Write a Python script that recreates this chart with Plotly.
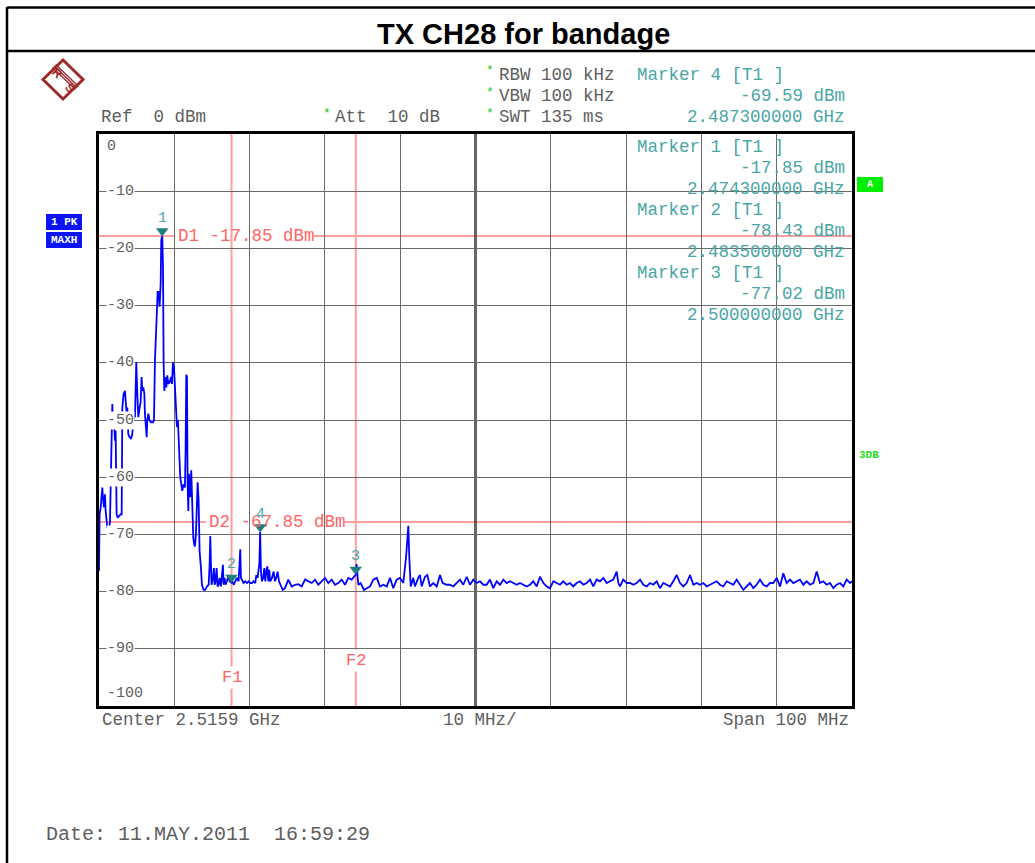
import plotly.graph_objects as go

# ---------------- data ----------------
freq_mhz = [
    2465.90, 2465.98, 2466.12, 2466.34, 2466.43, 2466.56, 2466.69, 2466.78, 2467.00, 2467.22,
    2467.36, 2467.53, 2467.67, 2467.80, 2467.89, 2468.02, 2468.11, 2468.24, 2468.38, 2468.56,
    2468.77, 2468.91, 2469.00, 2469.17, 2469.35, 2469.44, 2469.57, 2469.66, 2469.79, 2469.97,
    2470.15, 2470.32, 2470.41, 2470.54, 2470.68, 2470.85, 2470.99, 2471.12, 2471.30, 2471.43,
    2471.56, 2471.65, 2471.78, 2471.92, 2472.00, 2472.09, 2472.23, 2472.31, 2472.45, 2472.62,
    2472.80, 2473.07, 2473.20, 2473.33, 2473.47, 2473.60, 2473.69, 2473.82, 2473.95, 2474.09,
    2474.17, 2474.30, 2474.40, 2474.48, 2474.57, 2474.70, 2474.84, 2474.97, 2475.10, 2475.28,
    2475.46, 2475.59, 2475.72, 2475.86, 2475.99,
    2476.12, 2476.25, 2476.38, 2476.52, 2476.69, 2476.83, 2476.96, 2477.14, 2477.31, 2477.40,
    2477.49, 2477.58, 2477.67, 2477.76, 2477.84, 2477.93, 2478.02, 2478.15, 2478.29, 2478.42,
    2478.55, 2478.64, 2478.77, 2478.91, 2479.00, 2479.13, 2479.26, 2479.44, 2479.57, 2479.79,
    2480.01, 2480.23, 2480.46, 2480.59, 2480.68, 2480.77, 2480.85, 2481.03, 2481.16, 2481.25,
    2481.38, 2481.52, 2481.65, 2481.78, 2481.92, 2482.09, 2482.23, 2482.36, 2482.45, 2482.58,
    2482.71, 2482.89, 2483.11, 2483.24, 2483.50, 2483.60, 2483.78, 2484.00, 2484.22, 2484.44,
    2484.57, 2484.66, 2484.75, 2484.93, 2485.10, 2485.32, 2485.55, 2485.77, 2485.99, 2486.21,
    2486.43, 2486.65, 2486.79, 2486.96, 2487.10, 2487.20, 2487.30, 2487.41, 2487.54, 2487.71,
    2487.85, 2487.98, 2488.11, 2488.25, 2488.38, 2488.51, 2488.64, 2488.87, 2489.09, 2489.27,
    2489.44, 2489.62, 2489.80,
    2490.30, 2490.60, 2491.04, 2491.49, 2491.93, 2492.37, 2492.82, 2493.26, 2493.70, 2494.15,
    2494.59, 2495.02, 2495.47, 2495.91, 2496.35, 2496.80, 2497.24, 2497.68, 2498.13, 2498.57,
    2499.01, 2499.46, 2500.00, 2500.10, 2500.34, 2500.65, 2501.09, 2501.45, 2501.89, 2502.33,
    2502.78, 2503.22, 2503.66, 2504.11, 2504.55, 2504.98, 2505.43, 2505.87, 2506.31, 2506.67,
    2506.98, 2507.11, 2507.30, 2507.64, 2507.86, 2508.30, 2508.53, 2508.75, 2509.19, 2509.50,
    2509.86, 2510.30, 2510.75, 2511.19, 2511.54, 2512.08, 2512.51, 2512.95, 2513.40, 2513.84,
    2514.28, 2514.73, 2515.17,
    2515.61, 2516.05, 2516.50, 2516.94, 2517.38, 2517.82, 2518.27, 2518.71, 2519.15, 2519.60,
    2520.04, 2520.48, 2520.92, 2521.37, 2521.81, 2522.25, 2522.69, 2523.14, 2523.58, 2524.02,
    2524.46, 2524.91, 2525.35, 2525.79, 2526.24, 2526.68, 2527.12, 2527.56, 2528.01, 2528.45,
    2528.89, 2529.33, 2529.78, 2530.22, 2530.66, 2531.11, 2531.55, 2531.99, 2532.43, 2532.88,
    2533.32, 2533.76, 2534.20, 2534.65, 2534.87, 2535.09, 2535.53, 2535.98, 2536.42, 2536.86,
    2537.30, 2537.75, 2538.19, 2538.63, 2539.07, 2539.52, 2539.96, 2540.40, 2540.84, 2541.29,
    2541.73, 2542.17, 2542.62, 2543.06, 2543.50, 2543.94, 2544.39, 2544.83, 2545.27, 2545.71,
    2546.16, 2546.60, 2547.04, 2547.49, 2547.93, 2548.37, 2548.81, 2549.26, 2549.70, 2550.14,
    2550.58, 2551.03, 2551.47, 2551.91, 2552.35, 2552.80, 2553.24, 2553.68, 2554.13, 2554.57,
    2555.01, 2555.45, 2555.90, 2556.34, 2556.78, 2557.22, 2557.67, 2558.11, 2558.55, 2558.99,
    2559.44, 2559.88, 2560.32, 2560.77, 2561.21, 2561.65, 2562.09, 2562.54, 2562.98, 2563.42,
    2563.86, 2564.31, 2564.75, 2565.19, 2565.64, 2565.90,
]
level_dbm = [
    -76.4, -66.5, -65.3, -61.8, -63.6, -65.3, -63.0, -65.9, -68.8, -69.4,
    -67.7, -55.4, -47.2, -51.3, -50.1, -53.6, -51.9, -66.5, -67.1, -66.8,
    -66.5, -66.5, -47.8, -45.4, -44.9, -46.6, -48.9, -47.8, -52.5, -53.0,
    -53.3, -52.5, -50.1, -48.9, -49.5, -39.9, -45.4, -49.5, -47.8, -46.9,
    -42.5, -44.9, -44.3, -45.4, -48.9, -51.3, -53.0, -50.1, -48.9, -50.1,
    -50.4, -50.4, -50.1, -39.6, -35.5, -31.4, -27.6, -27.6, -30.2, -26.1,
    -18.5, -17.85, -23.2, -39.6, -44.9, -42.5, -44.3, -42.2, -43.7, -43.4,
    -42.5, -43.7, -39.9, -40.8, -44.3,
    -49.4, -51.2, -50.0, -55.3, -60.0, -61.2, -62.4, -61.2, -61.8, -55.3,
    -42.1, -42.4, -61.2, -65.9, -59.4, -62.4, -63.5, -58.8, -67.1, -70.6,
    -71.8, -72.1, -70.0, -61.2, -60.9, -64.1, -72.9, -75.9, -78.8, -79.7,
    -79.7, -79.1, -78.8, -75.3, -70.3, -75.3, -78.8, -77.6, -75.9, -78.8,
    -78.2, -75.9, -79.1, -78.8, -77.6, -79.1, -76.5, -75.3, -78.8, -77.6,
    -78.8, -78.2, -77.1, -78.2, -78.43, -78.2, -78.8, -78.2, -77.6, -78.2,
    -75.3, -72.6, -77.6, -78.2, -78.5, -78.2, -78.5, -78.2, -78.5, -78.5,
    -78.2, -78.5, -77.1, -77.6, -76.5, -75.0, -69.59, -76.5, -78.2, -77.6,
    -75.9, -78.2, -76.5, -75.6, -78.2, -76.2, -78.2, -77.6, -76.5, -78.2,
    -77.6, -76.5, -78.2,
    -79.7, -79.4, -77.9, -79.1, -78.8, -78.7, -79.1, -77.9, -78.2, -78.5,
    -77.9, -78.8, -78.2, -77.6, -78.5, -77.9, -78.8, -78.5, -77.9, -78.8,
    -77.6, -77.9, -77.02, -75.2, -78.8, -78.5, -79.7, -79.4, -79.1, -77.9,
    -77.6, -79.1, -78.8, -79.1, -77.6, -79.4, -77.9, -77.6, -78.5, -74.1,
    -68.5, -74.1, -79.1, -77.6, -79.1, -77.6, -77.1, -79.1, -77.4, -77.1,
    -79.1, -78.5, -79.1, -77.1, -78.5, -78.8, -78.8, -79.1, -78.5, -77.9,
    -78.8, -77.4, -78.8,
    -77.9, -78.5, -78.2, -78.8, -78.8, -77.9, -79.4, -78.2, -78.8, -77.9,
    -78.5, -78.2, -78.5, -78.8, -78.5, -78.8, -79.1, -78.8, -78.2, -79.1,
    -77.4, -78.5, -79.1, -79.4, -78.2, -78.5, -78.8, -78.2, -78.8, -78.5,
    -79.1, -78.5, -78.2, -78.8, -78.5, -77.9, -79.1, -77.9, -78.2, -77.6,
    -78.5, -78.2, -77.9, -76.5, -78.5, -79.1, -77.9, -78.5, -78.5, -78.8,
    -78.5, -77.9, -78.8, -79.1, -78.5, -78.8, -78.2, -79.4, -78.5, -78.8,
    -79.1, -78.2, -77.1, -78.5, -79.1, -78.5, -77.1, -78.8, -78.5, -78.8,
    -78.5, -79.1, -78.8, -78.5, -78.2, -78.8, -79.1, -78.2, -78.5, -78.8,
    -77.9, -78.8, -79.7, -79.1, -78.5, -79.4, -78.8, -77.9, -78.8, -79.1,
    -78.5, -78.5, -77.6, -79.1, -76.8, -78.5, -77.9, -78.5, -78.2, -77.9,
    -78.8, -78.2, -78.8, -78.5, -76.5, -78.5, -78.2, -78.8, -78.5, -79.4,
    -78.8, -78.5, -79.1, -77.9, -78.5, -78.2,
]

marker_ids = ["1", "2", "3", "4"]
marker_freq = [2474.3, 2483.5, 2500.0, 2487.3]
marker_level = [-17.85, -78.43, -77.02, -69.59]

display_lines = ["D1", "D2"]
display_level = [-17.85, -67.85]
freq_lines = ["F1", "F2"]
freq_line_mhz = [2483.5, 2500.0]

center_mhz = 2515.9
span_mhz = 100.0
ref_level = 0
y_ticks = [0, -10, -20, -30, -40, -50, -60, -70, -80, -90, -100]

# ---------------- layout helpers ----------------
W, H = 1035, 863
PL, PR, PT, PB = 99, 852, 134, 706


def px(x):
    return (x - PL) / (PR - PL)


def py(y):
    return (PB - y) / (PB - PT)


MONO = "Liberation Mono, Courier New, monospace"
SANS = "Liberation Sans, Arial, sans-serif"
GREY = "#5e5e5e"
TEAL = "#48a6a6"
PINK_LINE = "#ff9e9e"
PINK_TEXT = "#ff6464"
CHAR_W = 10.5  # approx. advance of the 17.5px monospace font

annotations = []
shapes = []


def text(x, y, s, color=GREY, size=17.5, anchor="left", family=MONO, bg=None, yshift=0, angle=0):
    a = dict(x=px(x), y=py(y), xref="paper", yref="paper", text=s, showarrow=False,
             xanchor=anchor, yanchor="middle", font=dict(family=family, size=size, color=color),
             yshift=yshift, textangle=angle)
    if bg:
        a["bgcolor"] = bg
        a["borderpad"] = 0
    annotations.append(a)


def line_px(x0, y0, x1, y1, color="black", width=2.5):
    shapes.append(dict(type="line", xref="paper", yref="paper", x0=px(x0), y0=py(y0),
                       x1=px(x1), y1=py(y1), line=dict(color=color, width=width)))


# outer frame + title bar
line_px(7, 7.5, 1060, 7.5)
line_px(7, 51, 1060, 51)
line_px(7, 7, 7, 880)
text(523, 34, "<b>TX CH28 for bandage</b>", color="black", size=29, anchor="center", family=SANS)

# R&S logo (diamond with diagonal band and letters)
LOGO = "#9e2b2b"
dpath = "M {} {} L {} {} L {} {} L {} {} Z".format(
    px(63), py(60), px(83), py(79.5), px(63), py(99), px(43), py(79.5))
shapes.append(dict(type="path", xref="paper", yref="paper", path=dpath,
                   line=dict(color=LOGO, width=3)))
for off in (-1.6, 0, 1.6):
    line_px(54 + off, 66 - off, 77 + off, 88 - off, color=LOGO, width=1.4)
text(57, 73, "<b>R</b>", color=LOGO, size=12, anchor="center", family=SANS, angle=45)
text(70, 88, "<b>S</b>", color=LOGO, size=12, anchor="center", family=SANS, angle=45)

# header texts
text(99, 117, "Ref  {} dBm".format(ref_level))
text(321, 113, "*", color="#19c819", size=13)
text(333, 117, "Att  10 dB")
for row, s in enumerate(["RBW 100 kHz", "VBW 100 kHz", "SWT 135 ms"]):
    text(484, 71 + 21 * row, "*", color="#19c819", size=13)
    text(497, 75 + 21 * row, s)

# marker info blocks
info_order = [3, 0, 1, 2]
info_rows = [75, 147, 210, 273]
for k, idx in enumerate(info_order):
    y0 = info_rows[k]
    text(635, y0, "Marker {} [T1 ]".format(marker_ids[idx]), color=TEAL)
    text(847, y0 + 21, "{:.2f} dBm".format(marker_level[idx]), color=TEAL, anchor="right")
    text(847, y0 + 42, "{:.9f} GHz".format(marker_freq[idx] / 1000), color=TEAL, anchor="right")

# side badges
shapes.append(dict(type="rect", xref="paper", yref="paper", x0=px(46), x1=px(82), y0=py(230), y1=py(214),
                   fillcolor="#0a14f5", line=dict(width=0)))
shapes.append(dict(type="rect", xref="paper", yref="paper", x0=px(46), x1=px(82), y0=py(248), y1=py(232),
                   fillcolor="#0a14f5", line=dict(width=0)))
text(64, 222, "<b>1 PK</b>", color="white", size=11, anchor="center")
text(64, 240, "<b>MAXH</b>", color="white", size=11, anchor="center")
shapes.append(dict(type="rect", xref="paper", yref="paper", x0=px(857), x1=px(883), y0=py(192), y1=py(177),
                   fillcolor="#00ee00", line=dict(width=0)))
text(870, 184.5, "<b>A</b>", color="white", size=10, anchor="center")
text(857, 455, "<b>3DB</b>", color="#22dd22", size=11)

# bottom texts
text(100, 720, "Center {:.4f} GHz".format(center_mhz / 1000))
text(441, 720, "{:g} MHz/".format(span_mhz / 10))
text(851, 720, "Span {:g} MHz".format(span_mhz), anchor="right")
text(44, 834, "Date: 11.MAY.2011  16:59:29", size=20)

# y tick labels drawn inside the grid
for v in y_ticks:
    shift = 0
    if v == 0:
        shift = -12
    elif v == -100:
        shift = 13
    annotations.append(dict(x=px(106), y=v, xref="paper", yref="y", text=str(v), showarrow=False,
                            xanchor="left", yanchor="middle", yshift=shift,
                            bgcolor="white" if v not in (0, -100) else None, borderpad=0,
                            font=dict(family=MONO, size=15, color=GREY)))

# display lines D1/D2 (line interrupted where its label sits)
d_label_x = [176, 207]
for name, lvl, lx in zip(display_lines, display_level, d_label_x):
    label = "{} {:.2f} dBm".format(name, lvl)
    gap_end = lx + CHAR_W * len(label) + 1
    for a0, a1 in ((0, px(lx - 1)), (px(gap_end), 1)):
        shapes.append(dict(type="line", xref="paper", yref="y", x0=a0, x1=a1, y0=lvl, y1=lvl,
                           line=dict(color=PINK_LINE, width=2), layer="between"))
    annotations.append(dict(x=px(lx), y=lvl, xref="paper", yref="y", text=label,
                            showarrow=False, xanchor="left", yanchor="middle",
                            font=dict(family=MONO, size=17.5, color=PINK_TEXT)))

# frequency lines F1/F2
f_label_y = [677, 660]
for name, f, ly in zip(freq_lines, freq_line_mhz, f_label_y):
    shapes.append(dict(type="line", xref="x", yref="paper", x0=f, x1=f, y0=0, y1=1,
                       line=dict(color=PINK_LINE, width=2), layer="between"))
    annotations.append(dict(x=f, y=py(ly), xref="x", yref="paper", text=name, showarrow=False,
                            xanchor="center", yanchor="middle", bgcolor="white", borderpad=1,
                            font=dict(family=MONO, size=17, color=PINK_TEXT)))

# thick centre line
shapes.append(dict(type="line", xref="x", yref="paper", x0=center_mhz, x1=center_mhz, y0=0, y1=1,
                   line=dict(color="black", width=2.2), layer="between"))

# marker numbers
for mid, f, lvl in zip(marker_ids, marker_freq, marker_level):
    annotations.append(dict(x=f, y=lvl, xref="x", yref="y", text=mid, showarrow=False,
                            xanchor="center", yanchor="middle", yshift=18,
                            font=dict(family=MONO, size=15, color=TEAL)))

fig = go.Figure()
fig.add_trace(go.Scatter(x=freq_mhz, y=level_dbm, mode="lines",
                         line=dict(color="#0000ff", width=1.8), hoverinfo="skip"))
fig.add_trace(go.Scatter(x=marker_freq, y=marker_level, mode="markers",
                         marker=dict(symbol="triangle-up", size=11, color="#1f7f7f",
                                     standoff=5, angle=180),
                         hoverinfo="skip"))

fig.update_layout(
    width=W, height=H, autosize=False,
    margin=dict(l=PL, r=W - PR, t=PT, b=H - PB, pad=0),
    paper_bgcolor="white", plot_bgcolor="white",
    showlegend=False,
    annotations=annotations, shapes=shapes,
    xaxis=dict(range=[center_mhz - span_mhz / 2, center_mhz + span_mhz / 2],
               tick0=center_mhz - span_mhz / 2, dtick=span_mhz / 10,
               showgrid=True, gridcolor="#6a6a6a", gridwidth=1.3,
               showticklabels=False, ticks="", zeroline=False,
               showline=True, mirror=True, linecolor="black", linewidth=2.5, fixedrange=True),
    yaxis=dict(range=[-100, 0], tick0=0, dtick=10,
               showgrid=True, gridcolor="#6a6a6a", gridwidth=1.3,
               showticklabels=False, ticks="", zeroline=False,
               showline=True, mirror=True, linecolor="black", linewidth=2.5, fixedrange=True),
)

fig.write_html("out.html", config={"displayModeBar": False},
               post_script="document.body.style.margin='0';")
